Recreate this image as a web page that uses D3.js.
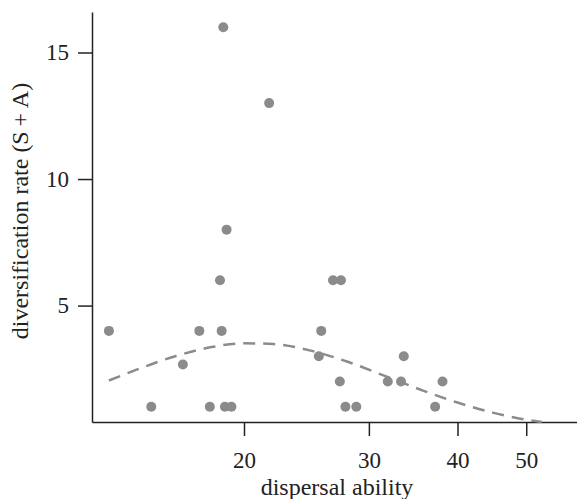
<!DOCTYPE html>
<html>
<head>
<meta charset="utf-8">
<script src="https://cdn.jsdelivr.net/npm/d3@7"></script>
<style>
  body { margin: 0; background: #fff; }
  text { font-family: "Liberation Serif", "Times New Roman", serif; }
</style>
</head>
<body>
<svg id="chart" width="577" height="499"></svg>
<script>
// dispersal ability (x) and diversification rate (y) of each species pair
const dispersal = [12.9, 14.8, 16.4, 17.3, 17.9, 18.7, 18.5, 18.6, 18.8, 19.2, 18.9, 21.7,
                   25.5, 25.7, 26.7, 27.4, 27.3, 27.8, 28.8, 31.9, 33.3, 33.6, 37.2, 38.1];
const diversification = [4, 1, 2.67, 4, 1, 16, 6, 4, 1, 1, 8, 13,
                         3, 4, 6, 6, 2, 1, 1, 2, 2, 3, 1, 2];

// fitted curve
const fitX = [12.9, 14, 16, 18, 20, 22, 25, 28, 32, 36, 40, 45, 50, 52.6];
const fitY = [2.04, 2.43, 3.0, 3.36, 3.51, 3.48, 3.2, 2.78, 2.16, 1.61, 1.17, 0.76, 0.49, 0.4];

const xTicks = [20, 30, 40, 50];
const yTicks = [5, 10, 15];

const svg = d3.select("#chart");
const plotLeft = 92, plotRight = 577, plotTop = 12, plotBottom = 422;

const x = d3.scaleLog().domain([12.21, 58.96]).range([plotLeft, plotRight]);
const y = d3.scaleLinear().domain([0.4, 16.6]).range([plotBottom, plotTop]);

const grey = "#8b8b8e";
const ink = "#222";

// x axis
const xAxis = svg.append("g")
    .attr("transform", `translate(0,${plotBottom})`)
    .call(d3.axisBottom(x).tickValues(xTicks).tickFormat(d3.format("d"))
        .tickSize(14).tickSizeOuter(0).tickPadding(16));

// y axis
const yAxis = svg.append("g")
    .attr("transform", `translate(${plotLeft},0)`)
    .call(d3.axisLeft(y).tickValues(yTicks).tickSize(14).tickSizeOuter(0).tickPadding(9));

[xAxis, yAxis].forEach(a => {
    a.select(".domain").attr("stroke", ink).attr("stroke-width", 1.5);
    a.selectAll(".tick line").attr("stroke", ink).attr("stroke-width", 1.5);
    a.selectAll(".tick text").attr("fill", ink)
        .style("font-family", "Liberation Serif").style("font-size", "23px");
});

// fitted curve
const line = d3.line().x(d => x(d[0])).y(d => y(d[1])).curve(d3.curveMonotoneX);
svg.append("path")
    .datum(fitX.map((v, i) => [v, fitY[i]]))
    .attr("d", line)
    .attr("fill", "none")
    .attr("stroke", grey)
    .attr("stroke-width", 2.5)
    .attr("stroke-dasharray", "12,8");

// points
svg.selectAll(".pt")
    .data(dispersal.map((v, i) => [v, diversification[i]]))
    .enter()
    .append("circle")
    .attr("class", "pt")
    .attr("cx", d => x(d[0]))
    .attr("cy", d => y(d[1]))
    .attr("r", 5)
    .attr("fill", grey);

// axis titles
svg.append("text")
    .attr("x", 337)
    .attr("y", 495)
    .attr("text-anchor", "middle")
    .attr("fill", ink)
    .style("font-size", "24px")
    .text("dispersal ability");

svg.append("text")
    .attr("transform", "translate(28,211) rotate(-90)")
    .attr("text-anchor", "middle")
    .attr("fill", ink)
    .style("font-size", "24px")
    .text("diversification rate (S\u2009+\u2009A)");
</script>
</body>
</html>
